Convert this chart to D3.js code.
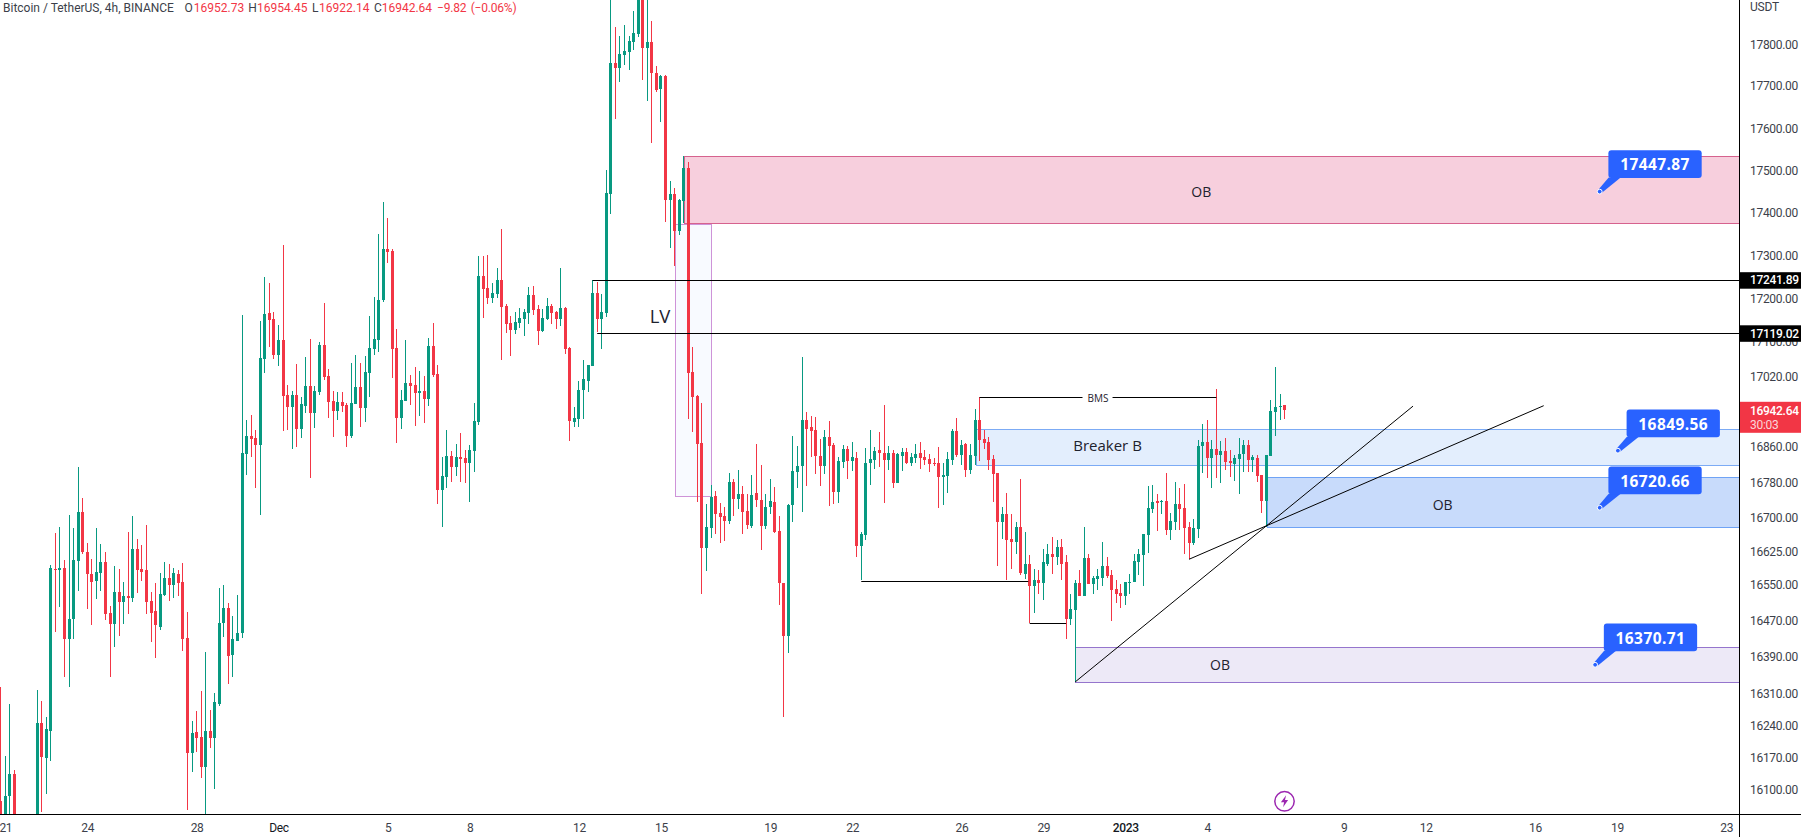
<!DOCTYPE html>
<html>
<head>
<meta charset="utf-8">
<title>BTCUSDT 4h</title>
<script src="https://cdn.jsdelivr.net/npm/d3@7"></script>
<style>
  html, body { margin: 0; padding: 0; background: #fff; overflow: hidden; }
  svg { display: block; font-family: Roboto, sans-serif; }
  .tick text { fill: #3c3f4a; font-size: 12px; letter-spacing: -0.3px; font-family: Roboto, sans-serif; }
  .note { font-family: "Open Sans", sans-serif; fill: #1e222d; text-anchor: middle; dominant-baseline: central; }
</style>
</head>
<body>
<div id="chart"></div>
<script>
// candles, one entry per 4h bar. bars 4-7 sit below the visible range
const opens = [
  16074,16020,16083,16131,16030,16000,16020,15995,16020,16242,
  16166,16226,16584,16582,16586,16427,16471,16602,16712,16622,
  16573,16557,16575,16600,16486,16460,16533,16510,16524,16519,
  16627,16584,16582,16512,16489,16455,16526,16564,16548,16573,
  16555,16429,16177,16224,16213,16146,16226,16211,16285,16462,
  16497,16393,16424,16442,16843,16884,16879,16863,17059,17165,
  17151,17068,17102,16976,16948,16976,16898,16951,16997,16935,
  16983,17091,17020,16962,16940,16960,16953,16883,16955,16994,
  16946,17026,17082,17102,17195,17313,17309,17084,16924,16962,
  17003,16999,16980,16985,16967,17089,17024,16760,16790,16837,
  16812,16835,16833,16821,16849,16915,17251,17223,17200,17209,
  17241,17181,17141,17125,17141,17151,17165,17206,17174,17123,
  17151,17181,17167,17151,17176,17084,16915,16921,16987,17008,
  17043,17211,17151,17165,17442,17753,17741,17772,17779,17803,
  17822,17915,17789,17803,17729,17691,17722,17428,17442,17355,
  17426,17503,17029,16974,16867,16630,16675,16747,16708,16702,
  16690,16779,16740,16751,16713,16679,16753,16738,16679,16722,
  16733,16668,16553,16435,16726,16801,16814,16919,16903,16896,
  16837,16814,16880,16862,16756,16823,16853,16826,16833,16634,
  16659,16821,16828,16851,16844,16828,16844,16776,16837,16846,
  16821,16833,16844,16835,16830,16821,16821,16790,16792,16828,
  16894,16840,16865,16805,16837,16919,16876,16869,16830,16799,
  16688,16706,16650,16643,16677,16573,16595,16546,16558,16553,
  16595,16616,16609,16632,16598,16471,16493,16553,16522,16607,
  16549,16560,16564,16589,16569,16539,16530,16522,16553,16555,
  16600,16614,16659,16717,16736,16733,16736,16670,16688,16729,
  16720,16677,16641,16672,16860,16869,16833,16853,16840,16849,
  16826,16819,16830,16842,16862,16828,16833,16794,16736,16837,
  16937,16948,16952.73
]
const highs = [
  16321,16170,16285,16140,16040,16035,16040,16030,16316,16290,
  16255,16593,16663,16678,16604,16705,16676,16813,16742,16642,
  16606,16676,16640,16622,16501,16591,16584,16555,16667,16703,
  16651,16637,16681,16533,16551,16575,16600,16595,16586,16582,
  16597,16488,16248,16270,16312,16400,16272,16309,16541,16548,
  16508,16479,16526,17160,16919,16931,16897,17146,17248,17234,
  17167,17137,17323,16999,16985,17047,16971,17063,17105,16997,
  17098,17188,17036,16985,16983,16983,16958,17049,17068,17049,
  17065,17158,17202,17349,17423,17386,17313,17128,16987,17102,
  17022,17040,17031,17020,17107,17141,17045,16835,16896,16849,
  16865,16889,16851,16862,16958,17297,17297,17299,17234,17269,
  17360,17185,17158,17167,17176,17174,17225,17227,17183,17174,
  17200,17185,17169,17269,17179,17086,16948,17008,17056,17045,
  17241,17236,17209,17499,17940,17839,17818,17844,17818,17878,
  17960,18000,17940,17854,17746,17724,17724,17473,17456,17430,
  17532,17517,17086,16976,16958,16729,16772,16758,16731,16722,
  16799,16785,16805,16769,16751,16794,16865,16817,16751,16785,
  16767,16702,16553,16729,16882,16860,17063,16937,16928,16926,
  16876,16896,16917,16867,16835,16862,16860,16869,16846,16666,
  16855,16896,16858,16892,16953,16860,16851,16844,16855,16855,
  16844,16865,16869,16851,16842,16833,16858,16821,16846,16898,
  16924,16873,16867,16865,16944,16971,16896,16880,16840,16799,
  16722,16753,16706,16688,16785,16666,16614,16584,16582,16629,
  16640,16654,16648,16650,16614,16528,16558,16582,16677,16616,
  16567,16584,16643,16611,16582,16558,16549,16555,16571,16616,
  16627,16661,16769,16772,16751,16738,16799,16708,16779,16765,
  16774,16688,16695,16873,16910,16919,16873,16990,16871,16878,
  16851,16840,16878,16873,16873,16840,16840,16794,16840,16964,
  17040,16978,16954.45
]
const lows = [
  15998,16000,16030,16010,15990,15970,15985,15980,16000,16050,
  16088,16161,16444,16499,16343,16321,16427,16535,16616,16495,
  16458,16517,16535,16470,16343,16409,16435,16460,16484,16510,
  16530,16557,16484,16422,16385,16447,16522,16512,16519,16522,
  16402,16053,16137,16179,16122,16030,16188,16100,16279,16431,
  16329,16343,16424,16429,16795,16836,16766,16705,17027,17086,
  17059,17042,16895,16896,16853,16858,16878,16935,16788,16901,
  16976,17010,16924,16880,16919,16937,16858,16878,16955,16903,
  16915,16971,17068,17075,17190,17280,17015,16867,16898,16962,
  16953,16905,16928,16912,16951,17017,16729,16677,16765,16778,
  16792,16778,16776,16733,16801,16908,17153,17185,17188,17200,
  17056,17118,17065,17116,17130,17111,17139,17160,17091,17121,
  17148,17139,17128,17134,17070,16871,16903,16903,16921,16983,
  17043,17121,17082,17155,17395,17619,17707,17748,17736,17784,
  17815,17712,17662,17563,17683,17612,17376,17315,17274,17346,
  17374,16921,16892,16734,16527,16578,16652,16661,16641,16645,
  16684,16702,16717,16661,16672,16675,16722,16625,16672,16706,
  16663,16504,16255,16396,16688,16765,16711,16769,16835,16796,
  16769,16796,16724,16729,16731,16810,16785,16803,16609,16558,
  16648,16772,16808,16812,16731,16805,16765,16776,16803,16819,
  16814,16821,16808,16817,16801,16814,16720,16726,16753,16817,
  16835,16817,16790,16796,16817,16826,16853,16805,16733,16591,
  16650,16558,16584,16616,16569,16562,16464,16486,16528,16515,
  16589,16571,16593,16558,16427,16458,16333,16522,16522,16549,
  16528,16537,16546,16564,16468,16508,16497,16504,16528,16555,
  16569,16546,16618,16708,16668,16706,16659,16648,16670,16670,
  16616,16605,16636,16652,16799,16788,16765,16788,16776,16805,
  16790,16781,16751,16801,16801,16801,16778,16708,16678,16837,
  16884,16919,16922.14
]
const closes = [
  16020,16085,16131,16030,16000,16020,15995,16020,16242,16168,
  16229,16586,16582,16586,16427,16473,16604,16712,16622,16571,
  16555,16577,16600,16484,16460,16533,16510,16524,16519,16627,
  16582,16577,16510,16486,16458,16528,16564,16548,16575,16553,
  16427,16177,16222,16211,16146,16226,16211,16288,16464,16497,
  16391,16427,16442,16845,16884,16876,16863,17062,17162,17148,
  17068,17102,16974,16948,16976,16898,16955,16997,16935,16985,
  17091,17017,16960,16940,16960,16951,16883,16958,16994,16946,
  17029,17084,17105,17195,17313,17306,17082,16924,16964,17003,
  16997,16980,16985,16967,17089,17022,16760,16792,16837,16812,
  16835,16830,16821,16851,16917,17251,17220,17200,17211,17241,
  17179,17139,17125,17144,17153,17167,17206,17172,17123,17153,
  17181,17165,17151,17176,17082,16917,16924,16987,17013,17045,
  17211,17151,17167,17445,17753,17741,17774,17782,17806,17825,
  17930,17789,17803,17729,17688,17722,17428,17442,17355,17428,
  17503,17027,16971,16865,16630,16677,16745,16706,16699,16690,
  16779,16740,16751,16711,16681,16749,16738,16679,16722,16736,
  16666,16552,16435,16726,16803,16814,16919,16898,16894,16837,
  16814,16880,16860,16756,16826,16853,16826,16835,16634,16661,
  16821,16830,16849,16844,16828,16844,16776,16842,16846,16821,
  16835,16842,16833,16828,16819,16819,16790,16794,16830,16894,
  16840,16862,16805,16840,16919,16873,16867,16828,16796,16688,
  16706,16648,16643,16677,16575,16595,16546,16558,16553,16598,
  16616,16609,16632,16595,16471,16495,16553,16522,16607,16549,
  16564,16567,16589,16567,16537,16528,16522,16555,16555,16602,
  16616,16661,16720,16733,16731,16736,16670,16690,16729,16717,
  16675,16641,16675,16860,16869,16833,16853,16840,16849,16823,
  16821,16833,16842,16862,16828,16835,16792,16736,16840,16939,
  16948,16951,16942.64
]

const priceTicks = [17800,17700,17600,17500,17400,17300,17200,17100,17020,16940,16860,16780,16700,16625,16550,16470,16390,16310,16240,16170,16100]
const timeBars = [1,19,43,61,85,103,127,145,169,187,211,229,247,265,295,313,337,355,379]
const timeLabels = ["21","24","28","Dec","5","8","12","15","19","22","26","29","2023","4","9","12","16","19","23"]

// drawings, in bar index / price
const zoneNames = ["LV gap","OB pink","Breaker B","OB blue","OB purple"]
const zoneStart = [148,150,214.2,278.1,236]
const zoneEnd = [155.9,381.8,381.8,381.8,381.8]
const zoneTop = [17373,17532,16900,16789,16410]
const zoneBottom = [16747,17374,16818,16678,16333]
const zoneFill = ["#f8faff","#f7cfdd","#e3eefd","#c8dbfb","#ede9f7"]
const zoneStroke = ["#ce93d8","#d6628e","#7cabf5","#6fa3f5","#9575cd"]

const levelPrices = [17241.89,17119.02,16557,16464]
const levelStart = [130,131,189,226]
const levelEnd = [381.8,381.8,225.7,234]

const trendFrom = [[236,16333],[261,16605]]
const trendTo = [[310.2,16951],[338.9,16952]]

const calloutValues = [17447.87,16849.56,16720.66,16370.71]
const calloutBars = [351.2,355.2,351.2,350.2]

const notes = [
  {t:"OB", bar:263.7, price:17448, size:14},
  {t:"LV", bar:144.8, price:17160, size:18.5},
  {t:"Breaker B", bar:243.1, price:16863, size:15},
  {t:"OB", bar:316.7, price:16729, size:14},
  {t:"OB", bar:267.8, price:16372, size:14}
]

const W = 1801, H = 837, plotW = 1739, plotH = 814
const GREEN = "#089981", RED = "#f23645"

var svg = d3.select("#chart").append("svg").attr("width", W).attr("height", H)

svg.append("clipPath").attr("id", "plot")
  .append("rect").attr("width", plotW).attr("height", plotH)

var x = d3.scaleLinear().domain([-0.176, 381.8]).range([0, plotW])
var y = d3.scaleLog().domain([17904, 16045]).range([0, plotH])

var plot = svg.append("g").attr("clip-path", "url(#plot)")

// zones go under the candles
plot.selectAll(".zone").data(zoneNames).enter().append("rect")
  .attr("class", "zone")
  .attr("x", (d, i) => Math.round(x(zoneStart[i])) + .5)
  .attr("y", (d, i) => Math.round(y(zoneTop[i])) + .5)
  .attr("width", (d, i) => Math.round(x(zoneEnd[i])) - Math.round(x(zoneStart[i])))
  .attr("height", (d, i) => Math.round(y(zoneBottom[i])) - Math.round(y(zoneTop[i])))
  .attr("fill", (d, i) => zoneFill[i])
  .attr("stroke", (d, i) => zoneStroke[i])
  .attr("stroke-width", 1)

var bars = plot.selectAll(".bar").data(opens.map((o, i) => i)).enter().append("g")
  .attr("class", "bar")
  .attr("fill", i => closes[i] >= opens[i] ? GREEN : RED)
  .attr("shape-rendering", "crispEdges")

bars.append("rect") // wick
  .attr("x", i => Math.floor(x(i)))
  .attr("width", 1)
  .attr("y", i => Math.round(y(highs[i])))
  .attr("height", i => Math.max(1, Math.round(y(lows[i])) - Math.round(y(highs[i]))))

bars.append("rect") // body
  .attr("x", i => Math.floor(x(i)) - 1)
  .attr("width", 3)
  .attr("y", i => Math.round(y(Math.max(opens[i], closes[i]))))
  .attr("height", i => Math.max(1, Math.round(y(Math.min(opens[i], closes[i]))) - Math.round(y(Math.max(opens[i], closes[i])))))

// black levels
plot.selectAll(".level").data(levelPrices).enter().append("line")
  .attr("x1", (d, i) => x(levelStart[i]))
  .attr("x2", (d, i) => x(levelEnd[i]))
  .attr("y1", d => Math.floor(y(d) + .5) + .5)
  .attr("y2", d => Math.floor(y(d) + .5) + .5)
  .attr("stroke", "#000")

trendFrom.forEach((p, i) => {
  plot.append("line")
    .attr("x1", x(p[0])).attr("y1", y(p[1]))
    .attr("x2", x(trendTo[i][0])).attr("y2", y(trendTo[i][1]))
    .attr("stroke", "#000").attr("stroke-width", 1)
})

// BMS line has a gap for its label
var bmsY = Math.floor(y(16971)) + .5
plot.append("line").attr("x1", x(215)).attr("x2", x(237.6)).attr("y1", bmsY).attr("y2", bmsY).attr("stroke", "#000")
plot.append("line").attr("x1", x(244.2)).attr("x2", x(267)).attr("y1", bmsY).attr("y2", bmsY).attr("stroke", "#000")
plot.append("text").attr("class", "note")
  .attr("x", x(241)).attr("y", bmsY).attr("font-size", 10).text("BMS")

plot.selectAll(".lab").data(notes).enter().append("text")
  .attr("class", "note lab")
  .attr("x", d => x(d.bar))
  .attr("y", d => y(d.price))
  .attr("font-size", d => d.size)
  .text(d => d.t)

// blue price callouts
var callout = plot.selectAll(".callout").data(calloutValues).enter().append("g")
  .attr("class", "callout")
  .attr("transform", (d, i) => `translate(${x(calloutBars[i])},${y(d)})`)

callout.append("path")
  .attr("d", "M-1.6,-1.6 L9,-14 L21,-14 L1.6,1.6 Z")
  .attr("fill", "#2962ff")
callout.append("rect")
  .attr("x", 8.7).attr("y", -41.3)
  .attr("width", 93.3).attr("height", 27.8).attr("rx", 3)
  .attr("fill", "#2962ff")
callout.append("circle")
  .attr("r", 2.4).attr("fill", "#2962ff")
  .attr("stroke", "#fff").attr("stroke-width", 1)
callout.append("text")
  .attr("x", 55.3).attr("y", -27.2)
  .attr("text-anchor", "middle")
  .attr("dominant-baseline", "central")
  .attr("fill", "#fff")
  .attr("font-family", "'Open Sans', sans-serif")
  .attr("font-weight", 700)
  .attr("font-size", 15.5)
  .attr("letter-spacing", .4)
  .text(d => d.toFixed(2))

// lightning mark
var bolt = svg.append("g").attr("transform", "translate(1284.5,801.3)")
bolt.append("circle").attr("r", 9.7).attr("fill", "#fff").attr("stroke", "#9c27b0").attr("stroke-width", 1.5)
bolt.append("path").attr("d", "M1.6,-6 L-3.6,1 H-0.4 L-1.4,6 L3.6,-1.4 H0.5 Z").attr("fill", "#9c27b0")

// axes
var yAxis = svg.append("g").attr("transform", `translate(${plotW},0)`)
  .call(d3.axisRight(y).tickValues(priceTicks).tickSize(0).tickPadding(11).tickFormat(d3.format(".2f")))
yAxis.select(".domain").remove()
yAxis.selectAll("text").attr("dy", "0.32em").attr("transform", "translate(0,1)")

var xAxis = svg.append("g").attr("transform", `translate(0,${plotH})`)
  .call(d3.axisBottom(x).tickValues(timeBars).tickSize(0).tickPadding(9)
    .tickFormat(d => timeLabels[timeBars.indexOf(d)]))
xAxis.select(".domain").remove()
xAxis.selectAll("text").filter(d => d == 247 || d == 61).style("fill", "#131722")
xAxis.selectAll("text").filter(d => d == 247).style("font-weight", 500)

svg.append("line").attr("x1", 0).attr("x2", W).attr("y1", plotH + .5).attr("y2", plotH + .5).attr("stroke", "#000")
svg.append("line").attr("x1", plotW + .5).attr("x2", plotW + .5).attr("y1", 0).attr("y2", H).attr("stroke", "#000")

svg.append("text").attr("x", 1750).attr("y", 7).attr("dominant-baseline", "central")
  .attr("font-size", 12).attr("letter-spacing", -.2).attr("fill", "#3c3f4a").text("USDT")

// price tags on the scale
const tagPrices = [17241.89, 17119.02]
svg.selectAll(".tag").data(tagPrices).enter().append("g").attr("class", "tag")
  .each(function (d) {
    var g = d3.select(this), c = y(d) + .6
    g.append("rect").attr("x", plotW + 1).attr("y", c - 8.2).attr("width", W - plotW).attr("height", 16.5).attr("fill", "#000")
    g.append("text").attr("x", 1750).attr("y", c).attr("dominant-baseline", "central")
      .attr("fill", "#fff").attr("font-size", 12).attr("letter-spacing", -.3).attr("font-weight", 500).text(d.toFixed(2))
  })

var last = closes[closes.length - 1]
svg.append("rect").attr("x", plotW + 1).attr("y", y(last) - 8).attr("width", W - plotW).attr("height", 31).attr("fill", RED)
svg.append("text").attr("x", 1750).attr("y", y(last) + 1.2).attr("dominant-baseline", "central")
  .attr("fill", "#fff").attr("font-size", 12).attr("letter-spacing", -.3).attr("font-weight", 500).text(last.toFixed(2))
svg.append("text").attr("x", 1750).attr("y", y(last) + 15).attr("dominant-baseline", "central")
  .attr("fill", "#fbd5da").attr("font-size", 12).attr("letter-spacing", -.3).text("30:03")

// legend row
const headerText = ["Bitcoin / TetherUS, 4h, BINANCE","O","16952.73","H","16954.45","L","16922.14","C","16942.64","\u22129.82","(\u22120.06%)"]
const headerX = [3,184.5,193.8,248.3,257,312,319,374,381.7,437,470.7]
svg.selectAll(".hd").data(headerText).enter().append("text")
  .attr("class", "hd")
  .attr("x", (d, i) => headerX[i])
  .attr("y", 8.3)
  .attr("dominant-baseline", "central")
  .attr("font-size", 12)
  .attr("letter-spacing", (d, i) => i > 8 ? -.2 : 0)
  .attr("fill", (d, i) => (i == 0 || (i % 2 == 1 && i < 9)) ? "#3c3f4a" : RED)
  .text(d => d)
</script>
</body>
</html>
